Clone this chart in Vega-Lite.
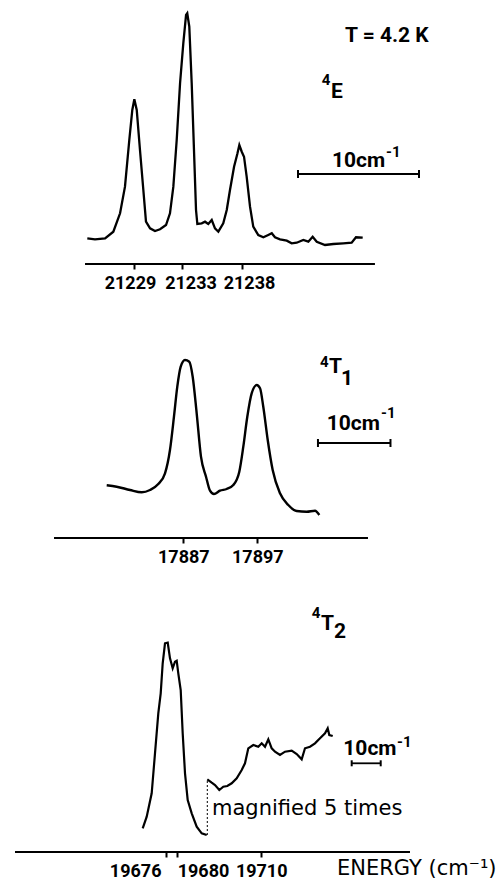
{
  "$schema": "https://vega.github.io/schema/vega-lite/v6.json",
  "padding": 0,
  "spacing": 40,
  "bounds": "flush",
  "config": {
    "view": {"stroke": null},
    "axis": {
      "domain": false, "grid": false, "tickColor": "black", "tickWidth": 2, "tickSize": 5,
      "labelFont": "Roboto", "labelFontSize": 18, "labelFontWeight": "bold",
      "labelColor": "black", "labelPadding": 5, "labelFlush": false, "labelOverlap": false, "format": "d"
    },
    "text": {"color": "black"}
  },
  "datasets": {
    "e_spec": [
      {"energy": 21225.15, "intensity": 25.7}, {"energy": 21225.79, "intensity": 24.7}, {"energy": 21226.63, "intensity": 25.7},
      {"energy": 21227.32, "intensity": 32.3}, {"energy": 21227.88, "intensity": 50.7}, {"energy": 21228.29, "intensity": 77.3},
      {"energy": 21228.65, "intensity": 124}, {"energy": 21228.90, "intensity": 154}, {"energy": 21229.07, "intensity": 164.7},
      {"energy": 21229.27, "intensity": 154}, {"energy": 21229.54, "intensity": 114}, {"energy": 21229.82, "intensity": 74},
      {"energy": 21230.04, "intensity": 42.3}, {"energy": 21230.38, "intensity": 35.7}, {"energy": 21230.79, "intensity": 33},
      {"energy": 21231.21, "intensity": 34.7}, {"energy": 21231.71, "intensity": 39}, {"energy": 21232.04, "intensity": 50.7},
      {"energy": 21232.32, "intensity": 77.3}, {"energy": 21232.60, "intensity": 124}, {"energy": 21232.88, "intensity": 180.7},
      {"energy": 21233.15, "intensity": 220.7}, {"energy": 21233.38, "intensity": 249}, {"energy": 21233.48, "intensity": 250.7},
      {"energy": 21233.65, "intensity": 237.3}, {"energy": 21233.85, "intensity": 180.7}, {"energy": 21234.04, "intensity": 114},
      {"energy": 21234.21, "intensity": 54}, {"energy": 21234.32, "intensity": 40}, {"energy": 21234.68, "intensity": 40.7},
      {"energy": 21234.96, "intensity": 42.3}, {"energy": 21235.23, "intensity": 40}, {"energy": 21235.52, "intensity": 44},
      {"energy": 21235.79, "intensity": 35.7}, {"energy": 21236.07, "intensity": 32.3}, {"energy": 21236.48, "intensity": 40.7},
      {"energy": 21236.77, "intensity": 54}, {"energy": 21237.04, "intensity": 74}, {"energy": 21237.38, "intensity": 97.3},
      {"energy": 21237.65, "intensity": 110}, {"energy": 21237.82, "intensity": 119}, {"energy": 21238.02, "intensity": 112.3},
      {"energy": 21238.21, "intensity": 107.3}, {"energy": 21238.43, "intensity": 87.3}, {"energy": 21238.71, "intensity": 57.3},
      {"energy": 21238.98, "intensity": 37.3}, {"energy": 21239.40, "intensity": 29}, {"energy": 21239.82, "intensity": 26.7},
      {"energy": 21240.23, "intensity": 29}, {"energy": 21240.52, "intensity": 30.7}, {"energy": 21240.79, "intensity": 26.7},
      {"energy": 21241.21, "intensity": 24.7}, {"energy": 21241.77, "intensity": 23.3}, {"energy": 21242.18, "intensity": 20.7},
      {"energy": 21242.60, "intensity": 21.3}, {"energy": 21243.15, "intensity": 24}, {"energy": 21243.57, "intensity": 22.3},
      {"energy": 21243.93, "intensity": 27.3}, {"energy": 21244.27, "intensity": 22.3}, {"energy": 21244.96, "intensity": 19},
      {"energy": 21245.65, "intensity": 20}, {"energy": 21246.48, "intensity": 20.7}, {"energy": 21247.18, "intensity": 21.3},
      {"energy": 21247.54, "intensity": 26.7}, {"energy": 21248.10, "intensity": 26.3}
    ],
    "e_axis": [{"energy": 21224.96, "energy2": 21249.12, "intensity": 0}],
    "e_bar": [{"energy": 21242.71, "energy2": 21252.79, "intensity": 90}],
    "e_caps": [{"energy": 21242.71, "intensity": 86, "intensity2": 94}, {"energy": 21252.79, "intensity": 86, "intensity2": 94}],
    "e_text": [
      {"energy": 21246.625, "intensity": 222, "label": "T = 4.2 K"},
      {"energy": 21245.46, "intensity": 166, "label": "E"},
      {"energy": 21245.54, "intensity": 97, "label": "10cm"}
    ],
    "e_sup": [
      {"energy": 21244.68, "intensity": 179, "label": "4"},
      {"energy": 21250.04, "intensity": 107, "label": "-1"}
    ],
    "t1_spec": [
      {"energy": 17876.65, "intensity": 52.7}, {"energy": 17878.00, "intensity": 51.3}, {"energy": 17879.80, "intensity": 48},
      {"energy": 17881.38, "intensity": 45.7}, {"energy": 17882.50, "intensity": 48}, {"energy": 17883.62, "intensity": 54},
      {"energy": 17884.53, "intensity": 64.7}, {"energy": 17885.20, "intensity": 88}, {"energy": 17885.74, "intensity": 121.3},
      {"energy": 17886.19, "intensity": 151.3}, {"energy": 17886.65, "intensity": 171.3}, {"energy": 17887.23, "intensity": 178},
      {"energy": 17887.81, "intensity": 176.3}, {"energy": 17888.27, "intensity": 161.3}, {"energy": 17888.81, "intensity": 124.7},
      {"energy": 17889.39, "intensity": 81.3}, {"energy": 17890.07, "intensity": 61.3}, {"energy": 17890.61, "intensity": 47.3},
      {"energy": 17891.15, "intensity": 44}, {"energy": 17891.96, "intensity": 47.3}, {"energy": 17892.86, "intensity": 49},
      {"energy": 17893.76, "intensity": 53}, {"energy": 17894.57, "intensity": 66.3}, {"energy": 17895.11, "intensity": 91.3},
      {"energy": 17895.65, "intensity": 121.3}, {"energy": 17896.24, "intensity": 144.7}, {"energy": 17896.92, "intensity": 153},
      {"energy": 17897.37, "intensity": 149.7}, {"energy": 17897.81, "intensity": 131.3}, {"energy": 17898.41, "intensity": 98},
      {"energy": 17899.08, "intensity": 68}, {"energy": 17900.07, "intensity": 44.7}, {"energy": 17901.19, "intensity": 33},
      {"energy": 17902.32, "intensity": 27}, {"energy": 17903.67, "intensity": 26.3}, {"energy": 17904.80, "intensity": 27.3},
      {"energy": 17905.38, "intensity": 23}
    ],
    "t1_axis": [{"energy": 17869.53, "energy2": 17911.96, "intensity": 0}],
    "t1_bar": [{"energy": 17905.2, "energy2": 17915.0, "intensity": 95}],
    "t1_caps": [{"energy": 17905.2, "intensity": 91, "intensity2": 99}, {"energy": 17915.0, "intensity": 91, "intensity2": 99}],
    "t1_text": [
      {"energy": 17906.69, "intensity": 165, "label": "T"},
      {"energy": 17908.31, "intensity": 153, "label": "1"},
      {"energy": 17906.38, "intensity": 108, "label": "10cm"}
    ],
    "t1_sup": [
      {"energy": 17905.47, "intensity": 171.3, "label": "4"},
      {"energy": 17913.72, "intensity": 120, "label": "-1"}
    ],
    "t2_spec": [
      {"energy": 19667.68, "intensity": 23.7, "part": "main"}, {"energy": 19669.11, "intensity": 35.3, "part": "main"},
      {"energy": 19670.89, "intensity": 58.7, "part": "main"}, {"energy": 19672.07, "intensity": 98.7, "part": "main"},
      {"energy": 19673.25, "intensity": 138.7, "part": "main"}, {"energy": 19674.11, "intensity": 158.7, "part": "main"},
      {"energy": 19674.82, "intensity": 188.7, "part": "main"}, {"energy": 19675.64, "intensity": 208.7, "part": "main"},
      {"energy": 19676.61, "intensity": 209.3, "part": "main"}, {"energy": 19677.43, "intensity": 193.7, "part": "main"},
      {"energy": 19678.39, "intensity": 183.7, "part": "main"}, {"energy": 19679.21, "intensity": 190.3, "part": "main"},
      {"energy": 19679.82, "intensity": 191.3, "part": "main"}, {"energy": 19680.39, "intensity": 178.7, "part": "main"},
      {"energy": 19681.25, "intensity": 162, "part": "main"}, {"energy": 19681.96, "intensity": 118.7, "part": "main"},
      {"energy": 19682.79, "intensity": 78.7, "part": "main"}, {"energy": 19683.75, "intensity": 52, "part": "main"},
      {"energy": 19685.18, "intensity": 38.7, "part": "main"}, {"energy": 19686.96, "intensity": 25.3, "part": "main"},
      {"energy": 19688.75, "intensity": 18.7, "part": "main"}, {"energy": 19690.54, "intensity": 17, "part": "main"},
      {"energy": 19690.75, "intensity": 72.7, "part": "x5"}, {"energy": 19692.32, "intensity": 69.3, "part": "x5"},
      {"energy": 19693.50, "intensity": 67, "part": "x5"}, {"energy": 19695.04, "intensity": 62, "part": "x5"},
      {"energy": 19696.46, "intensity": 65.3, "part": "x5"}, {"energy": 19697.89, "intensity": 66, "part": "x5"},
      {"energy": 19699.46, "intensity": 68.7, "part": "x5"}, {"energy": 19701.25, "intensity": 73.7, "part": "x5"},
      {"energy": 19703.04, "intensity": 82, "part": "x5"}, {"energy": 19704.21, "intensity": 88.7, "part": "x5"},
      {"energy": 19705.39, "intensity": 103.7, "part": "x5"}, {"energy": 19707.18, "intensity": 107, "part": "x5"},
      {"energy": 19708.96, "intensity": 105.3, "part": "x5"}, {"energy": 19710.18, "intensity": 108.7, "part": "x5"},
      {"energy": 19711.36, "intensity": 105.3, "part": "x5"}, {"energy": 19712.54, "intensity": 112.7, "part": "x5"},
      {"energy": 19713.75, "intensity": 103.7, "part": "x5"}, {"energy": 19714.93, "intensity": 100.3, "part": "x5"},
      {"energy": 19716.71, "intensity": 97, "part": "x5"}, {"energy": 19718.50, "intensity": 100.3, "part": "x5"},
      {"energy": 19720.89, "intensity": 101.3, "part": "x5"}, {"energy": 19722.68, "intensity": 98, "part": "x5"},
      {"energy": 19724.46, "intensity": 92.7, "part": "x5"}, {"energy": 19725.64, "intensity": 103.7, "part": "x5"},
      {"energy": 19727.43, "intensity": 105.3, "part": "x5"}, {"energy": 19729.21, "intensity": 108.7, "part": "x5"},
      {"energy": 19731.00, "intensity": 113.7, "part": "x5"}, {"energy": 19732.79, "intensity": 118.7, "part": "x5"},
      {"energy": 19733.75, "intensity": 123.7, "part": "x5"}, {"energy": 19734.32, "intensity": 117, "part": "x5"},
      {"energy": 19735.54, "intensity": 116, "part": "x5"}
    ],
    "t2_axis": [{"energy": 19622.07, "energy2": 19763.14, "intensity": 0}],
    "t2_bar": [{"energy": 19742.32, "energy2": 19752.68, "intensity": 88.7}],
    "t2_caps": [{"energy": 19742.32, "intensity": 85.7, "intensity2": 91.7}, {"energy": 19752.68, "intensity": 85.7, "intensity2": 91.7}],
    "t2_break": [{"energy": 19690.75, "intensity": 17, "intensity2": 72.7}],
    "t2_text": [
      {"energy": 19731.36, "intensity": 222, "label": "T"},
      {"energy": 19736.0, "intensity": 214, "label": "2"},
      {"energy": 19739.32, "intensity": 97, "label": "10cm"}
    ],
    "t2_sup": [
      {"energy": 19728.04, "intensity": 234, "label": "4"},
      {"energy": 19758.5, "intensity": 105, "label": "-1"}
    ],
    "t2_note": [{"energy": 19692.43, "intensity": 37, "label": "magnified 5 times"}]
  },
  "vconcat": [
    {
      "width": 496, "height": 264,
      "encoding": {
        "x": {"field": "energy", "type": "quantitative", "scale": {"domain": [21217.875, 21259.208], "nice": false, "zero": false},
              "axis": {"values": [21229, 21233, 21238],
                       "labelOffset": {"expr": "datum.value == 21229 ? -3.5 : datum.value == 21233 ? 9 : 7.5"}}, "title": null},
        "y": {"field": "intensity", "type": "quantitative", "scale": {"domain": [0, 264], "nice": false}, "axis": null}
      },
      "layer": [
        {"data": {"name": "e_spec"}, "mark": {"type": "line", "color": "black", "strokeWidth": 2.3}},
        {"data": {"name": "e_axis"}, "mark": {"type": "rule", "color": "black", "strokeWidth": 2}, "encoding": {"x2": {"field": "energy2"}}},
        {"data": {"name": "e_bar"}, "mark": {"type": "rule", "color": "black", "strokeWidth": 1.8}, "encoding": {"x2": {"field": "energy2"}}},
        {"data": {"name": "e_caps"}, "mark": {"type": "rule", "color": "black", "strokeWidth": 2}, "encoding": {"y2": {"field": "intensity2"}}},
        {"data": {"name": "e_text"}, "mark": {"type": "text", "align": "left", "baseline": "alphabetic", "font": "Roboto", "fontSize": 21, "fontWeight": "bold"},
         "encoding": {"text": {"field": "label"}}},
        {"data": {"name": "e_sup"}, "mark": {"type": "text", "align": "left", "baseline": "alphabetic", "font": "Roboto", "fontSize": 15, "fontWeight": "bold"},
         "encoding": {"text": {"field": "label"}}}
      ]
    },
    {
      "width": 496, "height": 234,
      "encoding": {
        "x": {"field": "energy", "type": "quantitative", "scale": {"domain": [17862.23, 17929.26], "nice": false, "zero": false},
              "axis": {"values": [17887, 17897]}, "title": null},
        "y": {"field": "intensity", "type": "quantitative", "scale": {"domain": [0, 234], "nice": false}, "axis": null}
      },
      "layer": [
        {"data": {"name": "t1_spec"}, "mark": {"type": "line", "color": "black", "strokeWidth": 2.4, "interpolate": "monotone"}},
        {"data": {"name": "t1_axis"}, "mark": {"type": "rule", "color": "black", "strokeWidth": 2}, "encoding": {"x2": {"field": "energy2"}}},
        {"data": {"name": "t1_bar"}, "mark": {"type": "rule", "color": "black", "strokeWidth": 1.8}, "encoding": {"x2": {"field": "energy2"}}},
        {"data": {"name": "t1_caps"}, "mark": {"type": "rule", "color": "black", "strokeWidth": 2}, "encoding": {"y2": {"field": "intensity2"}}},
        {"data": {"name": "t1_text"}, "mark": {"type": "text", "align": "left", "baseline": "alphabetic", "font": "Roboto", "fontSize": 21, "fontWeight": "bold"},
         "encoding": {"text": {"field": "label"}}},
        {"data": {"name": "t1_sup"}, "mark": {"type": "text", "align": "left", "baseline": "alphabetic", "font": "Roboto", "fontSize": 15, "fontWeight": "bold"},
         "encoding": {"text": {"field": "label"}}}
      ]
    },
    {
      "width": 496, "height": 274,
      "encoding": {
        "x": {"field": "energy", "type": "quantitative", "scale": {"domain": [19616.714, 19793.857], "nice": false, "zero": false},
              "axis": {"values": [19676, 19680, 19710],
                       "labelAlign": {"expr": "datum.value == 19676 ? 'right' : datum.value == 19680 ? 'left' : 'center'"},
                       "labelOffset": {"expr": "datum.value == 19676 ? -5 : 0"},
                       "titleFont": "DejaVu Sans", "titleFontSize": 21, "titleFontWeight": "normal",
                       "titleColor": "black", "titleAnchor": "end", "titleAlign": "right", "titlePadding": -23},
              "title": "ENERGY (cm⁻¹)"},
        "y": {"field": "intensity", "type": "quantitative", "scale": {"domain": [0, 274], "nice": false}, "axis": null}
      },
      "layer": [
        {"data": {"name": "t2_spec"}, "mark": {"type": "line", "color": "black", "strokeWidth": 2.2}, "encoding": {"detail": {"field": "part"}}},
        {"data": {"name": "t2_axis"}, "mark": {"type": "rule", "color": "black", "strokeWidth": 2}, "encoding": {"x2": {"field": "energy2"}}},
        {"data": {"name": "t2_bar"}, "mark": {"type": "rule", "color": "black", "strokeWidth": 1.8}, "encoding": {"x2": {"field": "energy2"}}},
        {"data": {"name": "t2_caps"}, "mark": {"type": "rule", "color": "black", "strokeWidth": 2}, "encoding": {"y2": {"field": "intensity2"}}},
        {"data": {"name": "t2_break"}, "mark": {"type": "rule", "color": "black", "strokeWidth": 1, "strokeDash": [2, 2]}, "encoding": {"y2": {"field": "intensity2"}}},
        {"data": {"name": "t2_text"}, "mark": {"type": "text", "align": "left", "baseline": "alphabetic", "font": "Roboto", "fontSize": 21, "fontWeight": "bold"},
         "encoding": {"text": {"field": "label"}}},
        {"data": {"name": "t2_sup"}, "mark": {"type": "text", "align": "left", "baseline": "alphabetic", "font": "Roboto", "fontSize": 15, "fontWeight": "bold"},
         "encoding": {"text": {"field": "label"}}},
        {"data": {"name": "t2_note"}, "mark": {"type": "text", "align": "left", "baseline": "alphabetic", "font": "DejaVu Sans", "fontSize": 21},
         "encoding": {"text": {"field": "label"}}}
      ]
    }
  ]
}
